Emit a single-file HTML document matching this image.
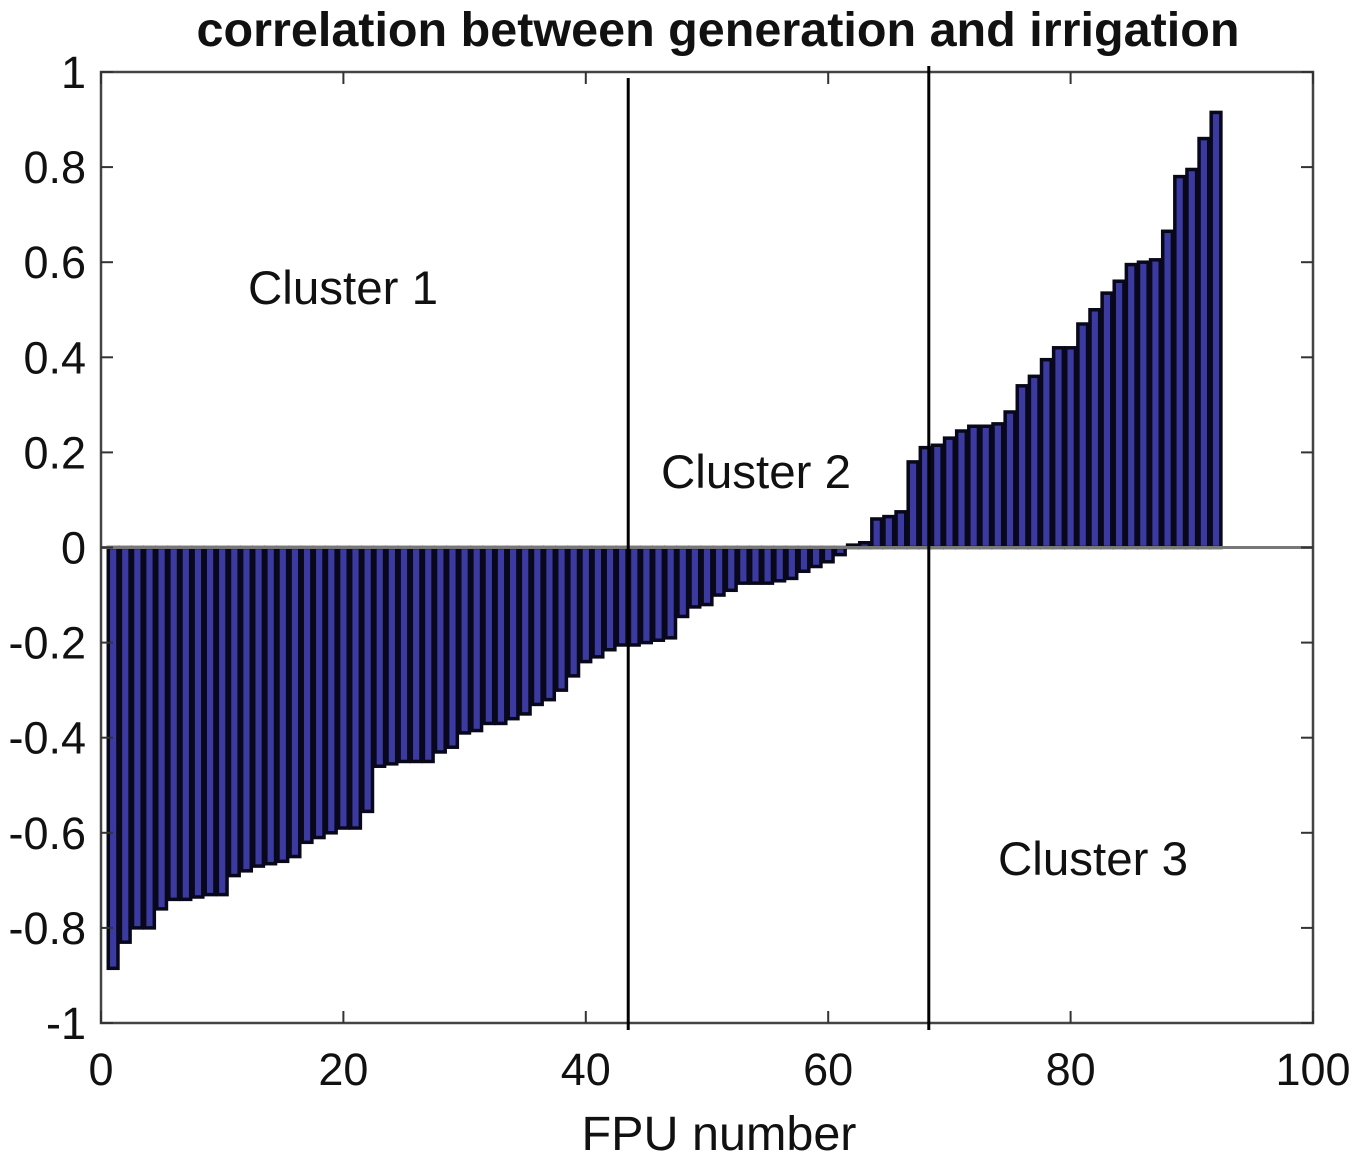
<!DOCTYPE html>
<html><head><meta charset="utf-8"><style>
body{margin:0;background:#fff;}
svg text{font-family:"Liberation Sans",Helvetica,Arial,sans-serif;fill:#111;}
</style></head><body>
<svg id="chart" width="1355" height="1160" viewBox="0 0 1355 1160" xmlns="http://www.w3.org/2000/svg">
<text x="718" y="46" text-anchor="middle" font-size="48.5" font-weight="bold">correlation between generation and irrigation</text>
<g id="bars"></g>
<g id="axes"></g>
<text x="248" y="304" font-size="47.5">Cluster 1</text>
<text x="661" y="488" font-size="47.5">Cluster 2</text>
<text x="998" y="875" font-size="47.5">Cluster 3</text>
<text x="719" y="1150" text-anchor="middle" font-size="48.5">FPU number</text>
</svg>
<script>
const values = [-0.885,-0.83,-0.80,-0.80,-0.76,-0.74,-0.74,-0.735,-0.73,-0.73,
-0.69,-0.68,-0.67,-0.665,-0.66,-0.65,-0.62,-0.61,-0.60,-0.59,
-0.59,-0.555,-0.46,-0.455,-0.45,-0.45,-0.45,-0.43,-0.42,-0.39,
-0.385,-0.37,-0.37,-0.36,-0.35,-0.33,-0.32,-0.30,-0.27,-0.24,
-0.23,-0.215,-0.205,-0.205,-0.20,-0.195,-0.19,-0.145,-0.125,-0.12,
-0.10,-0.09,-0.075,-0.075,-0.075,-0.07,-0.065,-0.05,-0.04,-0.03,
-0.015,0.005,0.01,0.06,0.065,0.075,0.18,0.21,0.215,0.23,
0.245,0.255,0.255,0.26,0.285,0.34,0.36,0.395,0.42,0.42,
0.47,0.50,0.535,0.56,0.595,0.60,0.605,0.665,0.78,0.795,
0.86,0.915];
const xTicks = [0,20,40,60,80,100];
const yTicks = [-1,-0.8,-0.6,-0.4,-0.2,0,0.2,0.4,0.6,0.8,1];
const clusterBounds = [43.5,68.3];

const L=101,R=1313,T=72,B=1023;
const NS="http://www.w3.org/2000/svg";
function xs(v){return L+(v-0)/(100-0)*(R-L);}
function ys(v){return B-(v-(-1))/2*(B-T);}
function mk(tag,attrs,parent){const e=document.createElementNS(NS,tag);for(const k in attrs)e.setAttribute(k,attrs[k]);parent.appendChild(e);return e;}
const bars=document.getElementById('bars');
const axes=document.getElementById('axes');
values.forEach((v,i)=>{
  const x0=xs(i+1-0.4),x1=xs(i+1+0.4);
  const y0=ys(Math.max(v,0)),y1=ys(Math.min(v,0));
  const r=mk('rect',{x:x0,y:y0,width:x1-x0,height:Math.max(y1-y0,0.5),fill:'#3a3aa0',stroke:'#08081a','stroke-width':3.5},bars);
  
  
});
const z=mk('line',{x1:L,x2:R,y1:ys(0),y2:ys(0),stroke:'#777','stroke-width':3},axes);


const box=mk('rect',{x:L,y:T,width:R-L,height:B-T,fill:'none',stroke:'#444','stroke-width':2.5},axes);


yTicks.forEach(t=>{
  const y=ys(t);
  mk('line',{x1:L,x2:L+12,y1:y,y2:y,stroke:'#333','stroke-width':2},axes);
  mk('line',{x1:R,x2:R-12,y1:y,y2:y,stroke:'#333','stroke-width':2},axes);
  const tx=mk('text',{x:86,y:y+16,'text-anchor':'end','font-size':45},axes);
  tx.textContent=String(t);
  
  
});
xTicks.forEach(t=>{
  const x=xs(t);
  mk('line',{x1:x,x2:x,y1:B,y2:B-12,stroke:'#333','stroke-width':2},axes);
  mk('line',{x1:x,x2:x,y1:T,y2:T+12,stroke:'#333','stroke-width':2},axes);
  const tx=mk('text',{x:x,y:1085,'text-anchor':'middle','font-size':45},axes);
  tx.textContent=String(t);
  
  
});
clusterBounds.forEach((b,i)=>{
  const ln=mk('line',{x1:xs(b),x2:xs(b),y1:i===0?78:66,y2:1030,stroke:'#000','stroke-width':3},axes);
  
  
});
</script>
</body></html>
